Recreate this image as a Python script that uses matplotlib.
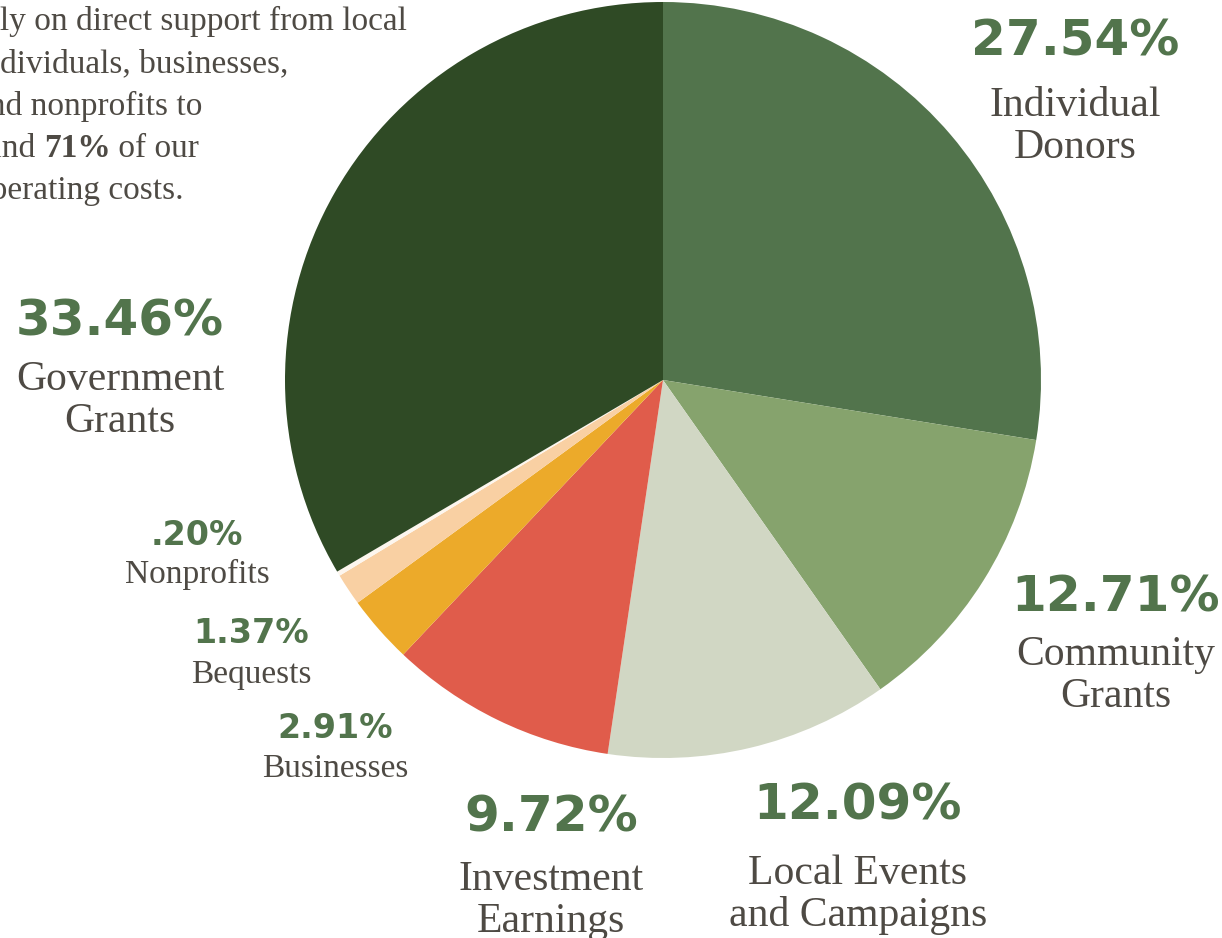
import matplotlib.pyplot as plt

# revenue sources, clockwise from 12 o'clock
sources = ['Individual\nDonors', 'Community\nGrants', 'Local Events\nand Campaigns',
           'Investment\nEarnings', 'Businesses', 'Bequests', 'Nonprofits',
           'Government\nGrants']
shares = [27.54, 12.71, 12.09, 9.72, 2.91, 1.37, 0.20, 33.46]
pct_text = ['27.54%', '12.71%', '12.09%', '9.72%', '2.91%', '1.37%', '.20%', '33.46%']
colors = ['#52744c', '#86a36d', '#d1d7c4', '#e05c4b', '#ecaa2a', '#f9d0a3',
          '#fdf6ee', '#2f4a25']

blurb = ['rely on direct support from local',
         'individuals, businesses,',
         'and nonprofits to',
         'fund 71% of our',
         'operating costs.']

W, H = 1222, 938
GREEN = '#52744c'
INK = '#4e4a44'
SERIF = 'Liberation Serif'
BOLD = 'DejaVu Sans'

fig = plt.figure(figsize=(W / 100, H / 100), dpi=100)
ax = fig.add_axes([0, 0, 1, 1])

# work in pixel units, y measured from the top
def py(y):
    return H - y

ax.pie(shares, colors=colors, startangle=90, counterclock=False,
       center=(663, py(380)), radius=378,
       wedgeprops=dict(linewidth=0))
ax.set_xlim(0, W)
ax.set_ylim(0, H)
ax.set_aspect('equal')
ax.axis('off')

# label placement: (x centre, pct baseline, first label baseline, pct size, label size)
place = [
    (1075, 55, 116, 36, 30),
    (1116, 612, 665, 36, 30),
    (858, 820, 884, 36, 30),
    (551, 832, 890, 36, 30),
    (335, 738, 777, 24, 24),
    (251, 643, 683, 24, 24),
    (197, 545, 583, 24, 24),
    (120, 335, 390, 36, 30),
]
for (x, yp, yl, sp, sl), pct, name in zip(place, pct_text, sources):
    ax.text(x, py(yp), pct, ha='center', va='baseline', color=GREEN,
            fontsize=sp, fontfamily=BOLD, fontweight='bold')
    for i, line in enumerate(name.split('\n')):
        ax.text(x, py(yl + i * 42), line, ha='center', va='baseline',
                color=INK, fontsize=sl, fontfamily=SERIF)

# intro paragraph, runs off the left edge
x0 = -26
renderer = fig.canvas.get_renderer()
for i, line in enumerate(blurb):
    y = py(30 + i * 42.3)
    if '71%' in line:
        pre, post = line.split('71%')
        t = ax.text(x0, y, pre, ha='left', va='baseline', color=INK,
                    fontsize=24, fontfamily=SERIF)
        bb = t.get_window_extent(renderer)
        t2 = ax.text(bb.x1, y, '71%', ha='left', va='baseline', color=INK,
                     fontsize=24, fontfamily=SERIF, fontweight='bold')
        bb2 = t2.get_window_extent(renderer)
        ax.text(bb2.x1, y, post, ha='left', va='baseline', color=INK,
                fontsize=24, fontfamily=SERIF)
    else:
        ax.text(x0, y, line, ha='left', va='baseline', color=INK,
                fontsize=24, fontfamily=SERIF)

fig.savefig('out.png', dpi=100)
